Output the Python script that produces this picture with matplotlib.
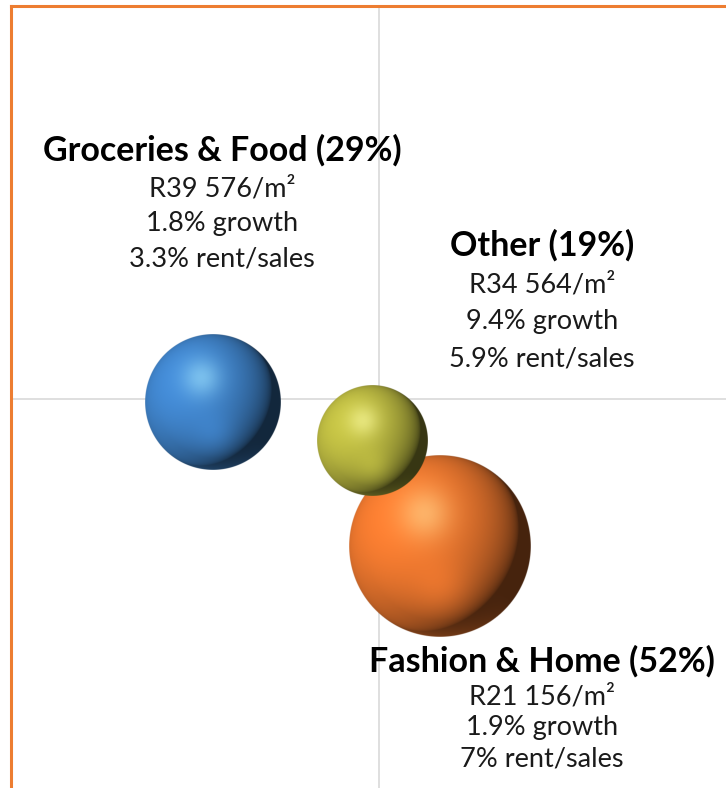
import numpy as np
import matplotlib
matplotlib.use("Agg")
import matplotlib.pyplot as plt
from matplotlib.colors import to_rgb

plt.rcParams['font.family'] = ['Lato', 'DejaVu Sans']

# Retail categories: rent/sales ratio (x), trading density (y), share of GLA (bubble size)
categories = ["Groceries & Food", "Other", "Fashion & Home"]
rent_to_sales = [3.3, 5.9, 7.0]
trading_density = [39576, 34564, 21156]
growth = [1.8, 9.4, 1.9]
share = [29, 19, 52]
density_text = ["R39 576/m²", "R34 564/m²", "R21 156/m²"]
rent_text = ["3.3%", "5.9%", "7%"]
colours = ["#3f82c8", "#b8b640", "#ea762e"]

# axis crossing values
x_cross = 6.0
y_cross = 40000

W, H = 726, 788
fig = plt.figure(figsize=(W / 100, H / 100), dpi=100)
ax = fig.add_axes([11 / W, 0, 1 - 11 / W, 1 - 6 / H])
ax.set_xlim(0, 11.67)
ax.set_ylim(-9935, 90450)
ax.set_xticks([])
ax.set_yticks([])
for side in ["right", "bottom"]:
    ax.spines[side].set_visible(False)
for side in ["left", "top"]:
    ax.spines[side].set_color("#ed7d31")
    ax.spines[side].set_linewidth(2.2)

ax.axhline(y_cross, color="#d9d9d9", lw=1.2, zorder=1)
ax.axvline(x_cross, color="#d9d9d9", lw=1.2, zorder=1)


def sphere(base, n=400):
    base = np.array(to_rgb(base))
    t = np.linspace(-1, 1, n)
    u, v = np.meshgrid(t, t)
    rr = np.sqrt(u ** 2 + v ** 2)
    z = np.sqrt(np.clip(1 - rr ** 2, 0, 1))
    L = np.array([-0.5, -0.35, 0.8])
    L = L / np.linalg.norm(L)
    diff = np.clip(u * L[0] + v * L[1] + z * L[2], 0, 1)
    shade = 0.3 + 0.8 * diff ** 0.6
    col = base[None, None, :] * shade[..., None]
    # soft specular highlight upper left
    hl = np.exp(-((u + 0.17) ** 2 + (v + 0.36) ** 2) / (2 * 0.2 ** 2))
    tint = np.clip(base + 0.4, 0, 1)
    col = col * (1 - 0.55 * hl[..., None]) + tint * 0.55 * hl[..., None]
    # faint reflected glow near the bottom
    gl = np.exp(-((u - 0.05) ** 2 + (v - 0.5) ** 2) / (2 * 0.22 ** 2))
    col = col + 0.12 * gl[..., None] * base
    # lighter rim on the lower left
    rim = np.clip((rr - 0.82) / 0.18, 0, 1) * np.clip(-u * 0.6 + v * 0.8, 0, 1)
    col = col * (1 - 0.3 * rim[..., None]) + base * 1.1 * 0.3 * rim[..., None]
    col = np.clip(col, 0, 1)
    alpha = np.clip((1 - rr) * n / 2 + 0.5, 0, 1)
    return np.dstack([col, alpha])


# pixel scale of the data axes
x0, x1 = ax.get_xlim()
y0, y1 = ax.get_ylim()
px_x = ax.bbox.width / (x1 - x0)
px_y = ax.bbox.height / (y1 - y0)
r_max = 91  # radius in pixels of the largest bubble

# largest bubble first, so smaller ones sit on top
order = np.argsort(share)[::-1]
for z, i in enumerate(order):
    r = r_max * np.sqrt(share[i] / max(share))
    dx = r / px_x
    dy = r / px_y
    ax.imshow(sphere(colours[i]),
              extent=(rent_to_sales[i] - dx, rent_to_sales[i] + dx,
                      trading_density[i] - dy, trading_density[i] + dy),
              aspect="auto", zorder=3 + z, interpolation="antialiased")

ax.set_xlim(x0, x1)
ax.set_ylim(y0, y1)

# labels: (centre x, title y) in pixels
label_pos = [(222, 150), (542, 245), (542, 661)]
line_gap = [35, 37, 31]
first_gap = [39, 40, 36]
for i, (cx, ty) in enumerate(label_pos):
    fig.text(cx / W, 1 - ty / H, f"{categories[i]} ({share[i]}%)",
             ha="center", va="center", fontsize=24.5, fontweight="bold",
             color="black", zorder=10)
    lines = [density_text[i], f"{growth[i]}% growth", f"{rent_text[i]} rent/sales"]
    for k, s in enumerate(lines):
        y = ty + first_gap[i] + k * line_gap[i]
        fig.text(cx / W, 1 - y / H, s, ha="center", va="center",
                 fontsize=19.5, color="#1a1a1a", zorder=10)

fig.savefig("out.png", dpi=100)
